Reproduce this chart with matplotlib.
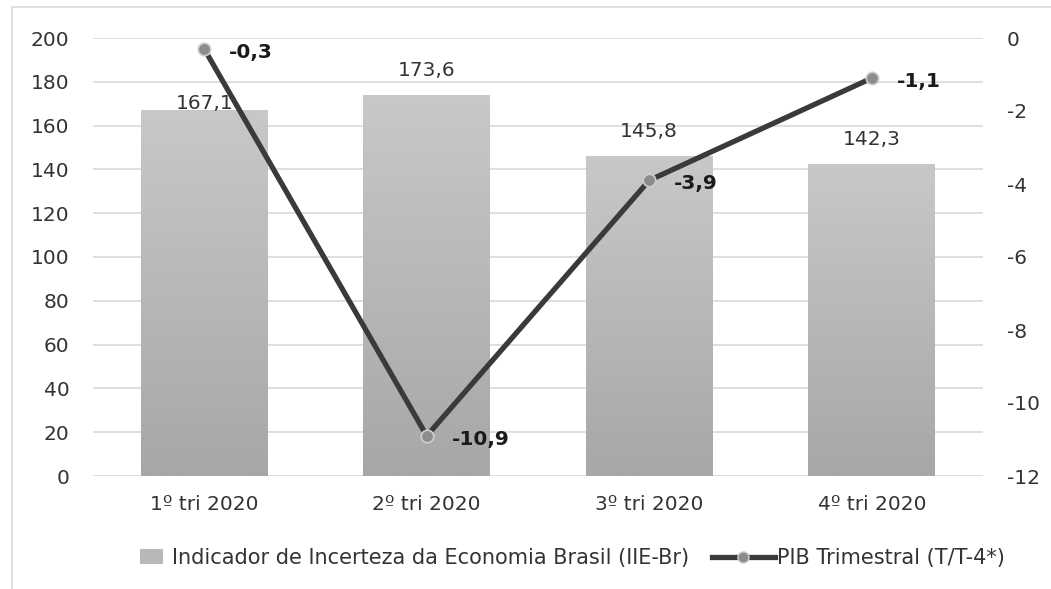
import numpy as np
import matplotlib
matplotlib.use("Agg")
import matplotlib.pyplot as plt
from matplotlib.lines import Line2D
from matplotlib.patches import Patch, Rectangle
from matplotlib.legend_handler import HandlerPatch

plt.rcParams['font.family'] = ['DejaVu Sans']
plt.rcParams['axes.unicode_minus'] = False

categories = ["1º tri 2020", "2º tri 2020", "3º tri 2020", "4º tri 2020"]
iie_br = [167.1, 173.6, 145.8, 142.3]
pib = [-0.3, -10.9, -3.9, -1.1]
left_ticks = list(range(0, 201, 20))
right_ticks = list(range(-12, 1, 2))

bar_label = "Indicador de Incerteza da Economia Brasil (IIE-Br)"
line_label = "PIB Trimestral (T/T-4*)"

FS = 14.5
TEXT = "#333333"


def fmt(v):
    return f"{v:.1f}".replace(".", ",")


fig = plt.figure(figsize=(10.51, 5.89), dpi=100)
# outer chart frame
fig.patches.append(Rectangle((12 / 1051, -0.01), 1.2, 1 - 7 / 589 + 0.01,
                             transform=fig.transFigure, fill=False,
                             edgecolor="#d9d9d9", linewidth=1.2))

ax = fig.add_axes([93 / 1051, 1 - 476 / 589, 890 / 1051, 438 / 589])
x = np.arange(len(categories))

# bars with a vertical grey gradient
bars = ax.bar(x, iie_br, width=0.57, color="none", zorder=2)
grad = np.linspace(0, 1, 256).reshape(-1, 1)
cmap = matplotlib.colors.LinearSegmentedColormap.from_list(
    "bar_grad", ["#a7a7a7", "#c8c8c8"])
label_lift = [1, 14, 14, 14]  # points above the bar top
for b, lift in zip(bars, label_lift):
    bx, bw, bh = b.get_x(), b.get_width(), b.get_height()
    ax.imshow(grad, extent=[bx, bx + bw, 0, bh], origin="lower", cmap=cmap,
              aspect="auto", zorder=2)
    ax.annotate(fmt(bh), (bx + bw / 2, bh), xytext=(0, lift),
                textcoords="offset points", ha="center", va="baseline",
                fontsize=FS, color=TEXT, zorder=3)

ax.set_xlim(-0.5, len(categories) - 0.5)
ax.set_ylim(0, 200)
ax.set_yticks(left_ticks)
ax.set_xticks(x)
ax.set_xticklabels(categories)
ax.tick_params(axis="both", length=0, labelsize=FS, colors=TEXT)
ax.tick_params(axis="y", pad=17)
ax.tick_params(axis="x", pad=14)
ax.grid(axis="y", color="#d9d9d9", linewidth=1.2, zorder=0)
ax.set_axisbelow(True)
for s in ax.spines.values():
    s.set_visible(False)

ax2 = ax.twinx()
ax2.set_ylim(-12, 0)
ax2.set_yticks(right_ticks)
ax2.tick_params(axis="y", length=0, labelsize=FS, colors=TEXT, pad=17)
for s in ax2.spines.values():
    s.set_visible(False)
ax2.plot(x, pib, color="#3a3a3a", linewidth=3.8, zorder=4,
         marker="o", markersize=9, markerfacecolor="#8c8c8c",
         markeredgecolor="#cfcfcf", markeredgewidth=1.2)
for xi, v in zip(x, pib):
    ax2.annotate(fmt(v), (xi, v), xytext=(18, -2.5), textcoords="offset points",
                 ha="left", va="center", fontsize=FS, fontweight="bold",
                 color="#1a1a1a", zorder=5)


def small_box(legend, orig_handle, xdescent, ydescent, width, height, fontsize):
    # short swatch sitting at the right end of the handle slot
    w = 16.5
    return Rectangle((-xdescent + width - w - 5, -ydescent), w, height)


handles = [
    Patch(facecolor="#b8b8b8", edgecolor="none"),
    Line2D([0], [0], color="#3a3a3a", linewidth=3.8, marker="o", markersize=8,
           markerfacecolor="#8c8c8c", markeredgecolor="#cfcfcf"),
]
fig.legend(handles, [bar_label, line_label], loc="center",
           bbox_to_anchor=(556 / 1051, 1 - 558 / 589), ncol=2, frameon=False,
           fontsize=15, handlelength=3.0, handletextpad=0.1, columnspacing=1.1,
           labelcolor=TEXT,
           handler_map={Patch: HandlerPatch(patch_func=small_box)})

fig.savefig("out.png", dpi=100)
